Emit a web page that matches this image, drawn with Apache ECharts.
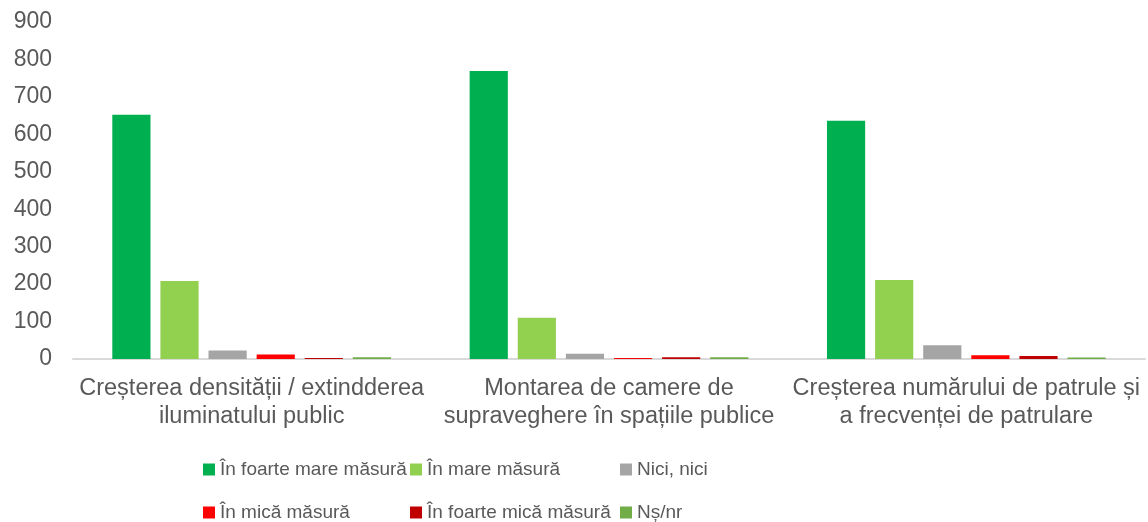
<!DOCTYPE html>
<html>
<head>
<meta charset="utf-8">
<script src="https://cdn.jsdelivr.net/npm/echarts@6/dist/echarts.min.js"></script>
<style>
  html, body { margin: 0; padding: 0; background: #fff; }
  #chart { width: 1148px; height: 522px; }
</style>
</head>
<body>
<div id="chart"></div>
<script>
// categorii
const categories = [
    "Creșterea densității / extindderea\niluminatului public",
    "Montarea de camere de\nsupraveghere în spațiile publice",
    "Creșterea numărului de patrule și\na frecvenței de patrulare"
];

const seriesNames = [
    "În foarte mare măsură",
    "În mare măsură",
    "Nici, nici",
    "În mică măsură",
    "În foarte mică măsură",
    "Nș/nr"
];

const foarteMare = [652, 769, 636];
const mare = [208, 110, 211];
const niciNici = [23, 14, 37];
const mica = [12, 3, 10];
const foarteMica = [3, 5, 8];
const nsnr = [5, 5, 4];

const colors = ["#00B050", "#92D050", "#A5A5A5", "#FF0000", "#C00000", "#70AD47"];
const values = [foarteMare, mare, niciNici, mica, foarteMica, nsnr];

const textColor = "#595959";
const fontFamily = "'Liberation Sans', Arial, sans-serif";

// pozitii legenda (3 coloane x 2 randuri)
const legendLeft = [203, 410, 620];
const legendTop = [455, 498];

function makeLegend(name, i) {
    return {
        data: [name],
        left: legendLeft[i % 3] - 5,
        top: legendTop[Math.floor(i / 3)],
        itemWidth: 12,
        itemHeight: 12,
        icon: "rect",
        textStyle: {
            color: textColor,
            fontSize: 19,
            fontFamily: fontFamily
        }
    };
}

const chartInstance = echarts.init(document.getElementById("chart"));
chartInstance.setOption({
    animation: false,
    color: colors,
    grid: { left: 73, right: 3, top: 22, bottom: 163 },
    legend: seriesNames.map(makeLegend),
    xAxis: {
        type: "category",
        data: categories,
        axisLine: { lineStyle: { color: "#D9D9D9", width: 2 } },
        axisTick: { show: false },
        axisLabel: {
            color: textColor,
            fontSize: 23.5,
            fontFamily: fontFamily,
            lineHeight: 28,
            margin: 16,
            interval: 0
        }
    },
    yAxis: {
        type: "value",
        min: 0,
        max: 900,
        interval: 100,
        splitLine: { show: false },
        axisLine: { show: false },
        axisTick: { show: false },
        axisLabel: {
            color: textColor,
            fontSize: 23,
            fontFamily: fontFamily,
            margin: 21
        }
    },
    series: seriesNames.map((name, i) => ({
        name: name,
        type: "bar",
        data: values[i],
        barGap: "26%",
        barCategoryGap: "22%",
        itemStyle: { color: colors[i] }
    }))
});
</script>
</body>
</html>
